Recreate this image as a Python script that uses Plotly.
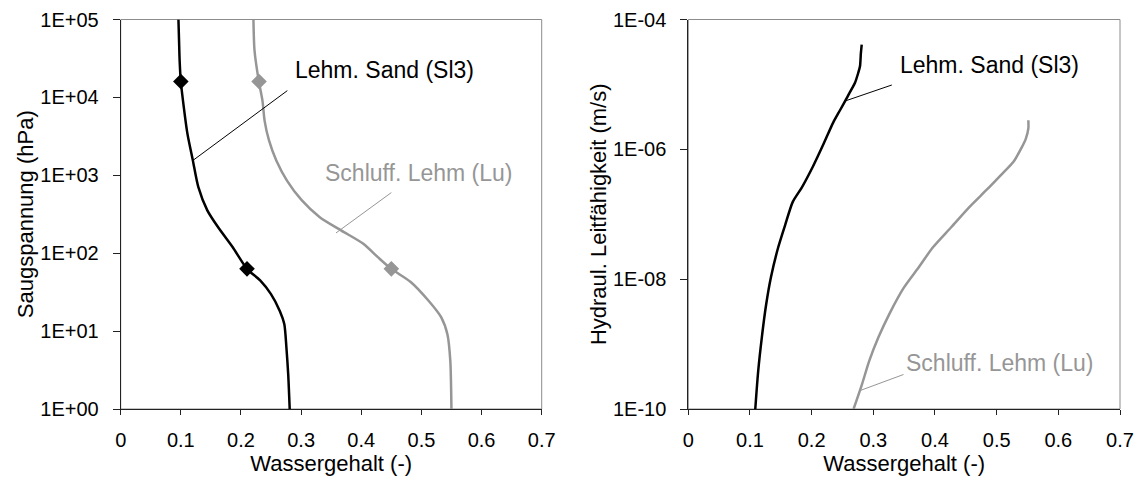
import plotly.graph_objects as go

# ---------- data ----------
# Retention curves (Wassergehalt vs Saugspannung in hPa)
sl3_theta = [0.096, 0.097, 0.098, 0.100, 0.105, 0.111, 0.120, 0.129, 0.144, 0.162,
             0.186, 0.210, 0.2315, 0.2496, 0.2647, 0.272, 0.2755, 0.2785, 0.281]
sl3_h = [1.0e5, 5.4e4, 2.95e4, 1.6e4, 7.4e3, 3.4e3, 1.55e3, 7.1e2, 3.55e2, 2.15e2,
         1.2e2, 63, 45, 30, 18, 12.3, 6.2, 2.8, 1.0]

lu_theta = [0.2207, 0.2225, 0.2297, 0.2357, 0.2393, 0.2466, 0.2587, 0.2767, 0.3009, 0.331,
            0.367, 0.4034, 0.4275, 0.4498, 0.4817, 0.5119, 0.533, 0.5432, 0.548, 0.5499]
lu_h = [1.0e5, 4.0e4, 1.6e4, 9.1e3, 5.0e3, 2.8e3, 1.55e3, 8.5e2, 4.8e2, 2.9e2,
        1.95e2, 1.32e2, 89, 63, 43, 24.5, 15, 9.1, 4.2, 1.0]

# Characteristic points (diamonds): wilting point and field capacity
sl3_pts_theta = [0.100, 0.210]
sl3_pts_h = [1.6e4, 63]
lu_pts_theta = [0.23, 0.45]
lu_pts_h = [1.6e4, 63]

# Hydraulic conductivity curves (Wassergehalt vs K in m/s)
sl3_k_theta = [0.2812, 0.2798, 0.2784, 0.2755, 0.2703, 0.2655, 0.2582, 0.246, 0.2351, 0.2196,
               0.2019, 0.1842, 0.1694, 0.1576, 0.1458, 0.134, 0.1263, 0.1192, 0.1133, 0.1086]
sl3_k = [4.1e-5, 3.0e-5, 1.9e-5, 1.5e-5, 1.06e-5, 8.7e-6, 6.5e-6, 4.0e-6, 2.6e-6, 1.23e-6,
         5.4e-7, 2.6e-7, 1.55e-7, 7.1e-8, 3.1e-8, 1.07e-8, 4.1e-9, 1.26e-9, 3.8e-10, 1.0e-10]

lu_k_theta = [0.5514, 0.5514, 0.5472, 0.5413, 0.5266, 0.5089, 0.4852, 0.4557, 0.4262, 0.3967,
              0.3731, 0.3495, 0.3259, 0.3081, 0.2934, 0.2816, 0.268]
lu_k = [2.8e-6, 2.1e-6, 1.45e-6, 1.1e-6, 6.3e-7, 4.2e-7, 2.45e-7, 1.29e-7, 6.3e-8, 3.1e-8,
        1.5e-8, 7.4e-9, 2.9e-9, 1.26e-9, 5.5e-10, 2.4e-10, 1.0e-10]

# Leader lines for labels
lead_l_sl3_x, lead_l_sl3_y = [0.277, 0.120], [1.22e4, 1.55e3]
lead_l_lu_x, lead_l_lu_y = [0.450, 0.358], [6.0e2, 1.82e2]
lead_r_sl3_x, lead_r_sl3_y = [0.330, 0.253], [9.8e-6, 5.5e-6]
lead_r_lu_x, lead_r_lu_y = [0.349, 0.277], [3.4e-10, 1.9e-10]

# Tick labels
x_ticks = [0, 0.1, 0.2, 0.3, 0.4, 0.5, 0.6, 0.7]
x_ticktext = ["0", "0.1", "0.2", "0.3", "0.4", "0.5", "0.6", "0.7"]
h_ticks = [1, 10, 100, 1e3, 1e4, 1e5]
h_ticktext = ["1E+00", "1E+01", "1E+02", "1E+03", "1E+04", "1E+05"]
k_ticks = [1e-10, 1e-8, 1e-6, 1e-4]
k_ticktext = ["1E-10", "1E-08", "1E-06", "1E-04"]

label_sl3 = "Lehm. Sand (Sl3)"
label_lu = "Schluff. Lehm (Lu)"

# ---------- style ----------
BLACK = "#000000"
GRAY = "#969696"
FONT = "Liberation Sans, Arial, sans-serif"
TICK_SIZE = 20
TITLE_SIZE = 22
LABEL_SIZE = 23

fig = go.Figure()

def line(x, y, color, width, xa, ya, smooth=True):
    shape = dict(shape="spline", smoothing=0.7) if smooth else {}
    fig.add_trace(go.Scatter(x=x, y=y, mode="lines", line=dict(color=color, width=width, **shape),
                             xaxis=xa, yaxis=ya, showlegend=False, hoverinfo="skip"))

# Left panel
line(lu_theta, lu_h, GRAY, 2.5, "x", "y")
line(sl3_theta, sl3_h, BLACK, 2.5, "x", "y")
fig.add_trace(go.Scatter(x=lu_pts_theta, y=lu_pts_h, mode="markers",
                         marker=dict(symbol="diamond", size=12, color=GRAY),
                         xaxis="x", yaxis="y", showlegend=False))
fig.add_trace(go.Scatter(x=sl3_pts_theta, y=sl3_pts_h, mode="markers",
                         marker=dict(symbol="diamond", size=12, color=BLACK),
                         xaxis="x", yaxis="y", showlegend=False))
line(lead_l_sl3_x, lead_l_sl3_y, BLACK, 1, "x", "y", smooth=False)
line(lead_l_lu_x, lead_l_lu_y, GRAY, 1, "x", "y", smooth=False)

# Right panel
line(lu_k_theta, lu_k, GRAY, 2.5, "x2", "y2")
line(sl3_k_theta, sl3_k, BLACK, 2.5, "x2", "y2")
line(lead_r_sl3_x, lead_r_sl3_y, BLACK, 1, "x2", "y2", smooth=False)
line(lead_r_lu_x, lead_r_lu_y, GRAY, 1, "x2", "y2", smooth=False)

W, H = 1140, 479
left_dom = [120.7 / W, 541.7 / W]
right_dom = [688.3 / W, 1120.0 / W]
y_dom = [1 - 409.0 / H, 1 - 19.5 / H]

common_x = dict(range=[0, 0.7], tickvals=x_ticks, ticktext=x_ticktext, automargin=False,
                showgrid=False, zeroline=False, showline=True, linecolor="#222222",
                linewidth=1, ticks="outside", ticklen=5, tickcolor="#222222",
                ticklabelstandoff=8,
                tickfont=dict(size=TICK_SIZE, color=BLACK, family=FONT),
                title=dict(text="Wassergehalt (-)", font=dict(size=TITLE_SIZE, color=BLACK, family=FONT),
                           standoff=0))
common_y = dict(type="log", showgrid=False, zeroline=False, showline=True, linecolor="#222222",
                linewidth=1, ticks="outside", ticklen=7, tickcolor="#222222", automargin=False,
                tickfont=dict(size=TICK_SIZE, color=BLACK, family=FONT),
                ticklabelstandoff=10)

fig.update_layout(
    width=W, height=H, autosize=False,
    margin=dict(l=0, r=0, t=0, b=0, pad=0, autoexpand=False),
    paper_bgcolor="white", plot_bgcolor="white",
    font=dict(family=FONT, color=BLACK),
    xaxis=dict(domain=left_dom, anchor="y", **common_x),
    yaxis=dict(domain=y_dom, anchor="x", range=[0, 5], tickvals=h_ticks, ticktext=h_ticktext,
               title=dict(text="Saugspannung (hPa)", font=dict(size=TITLE_SIZE, color=BLACK, family=FONT),
                          standoff=0),
               **common_y),
    xaxis2=dict(domain=right_dom, anchor="y2", **common_x),
    yaxis2=dict(domain=y_dom, anchor="x2", range=[-10, -4], tickvals=k_ticks, ticktext=k_ticktext,
                title=dict(text="Hydraul. Leitfähigkeit (m/s)", font=dict(size=TITLE_SIZE, color=BLACK, family=FONT),
                           standoff=0),
                **common_y),
    showlegend=False,
)

# Plot-area frames (gray)
for xr, yr in (("x domain", "y domain"), ("x2 domain", "y2 domain")):
    fig.add_shape(type="rect", xref=xr, yref=yr, x0=0, x1=1, y0=0, y1=1,
                  line=dict(color="#8c8c8c", width=1), layer="below")

# Labels (log axes -> log10 units for annotation y)
ann = [
    (label_sl3, "x", "y", 0.2865, 4.346, BLACK),
    (label_lu, "x", "y", 0.337, 3.026, GRAY),
    (label_sl3, "x2", "y2", 0.3405, -4.694, BLACK),
    (label_lu, "x2", "y2", 0.3494, -9.29, GRAY),
]
for text, xr, yr, xv, yv, col in ann:
    fig.add_annotation(text=text, xref=xr, yref=yr, x=xv, y=yv, xanchor="left", yanchor="middle",
                       showarrow=False, font=dict(size=LABEL_SIZE, color=col, family=FONT))

fig.write_html("out.html")
